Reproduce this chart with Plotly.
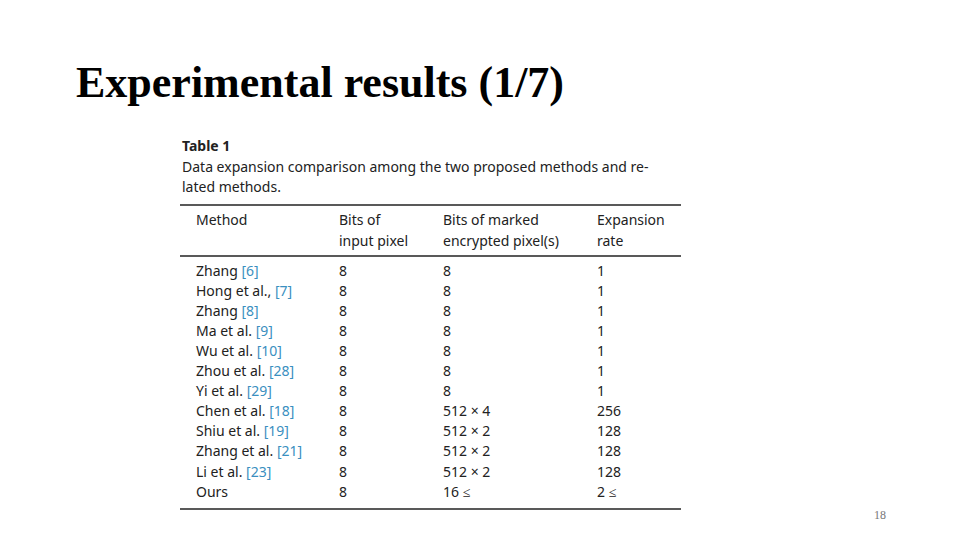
import plotly.graph_objects as go

title = "Experimental results (1/7)"
table_label = "Table 1"
caption = ["Data expansion comparison among the two proposed methods and re-",
           "lated methods."]
headers = [["Method", ""], ["Bits of", "input pixel"],
           ["Bits of marked", "encrypted pixel(s)"], ["Expansion", "rate"]]

methods = ["Zhang", "Hong et al.,", "Zhang", "Ma et al.", "Wu et al.", "Zhou et al.",
           "Yi et al.", "Chen et al.", "Shiu et al.", "Zhang et al.", "Li et al.", "Ours"]
refs = ["[6]", "[7]", "[8]", "[9]", "[10]", "[28]", "[29]", "[18]", "[19]", "[21]", "[23]", ""]
input_bits = ["8"] * 12
marked_bits = ["8", "8", "8", "8", "8", "8", "8", "512 × 4", "512 × 2", "512 × 2", "512 × 2", "16 ≤"]
expansion = ["1", "1", "1", "1", "1", "1", "1", "256", "128", "128", "128", "2 ≤"]
page_no = "18"

col_x = [194, 337, 441, 595]
cite = "#3a8fc0"
tfont = dict(family="Noto Sans", size=14, color="#222")

fig = go.Figure()
ann = []
ann.append(dict(x=74, y=82, text="<b>" + title + "</b>", xanchor="left", yanchor="middle",
                font=dict(family="Liberation Serif", size=44, color="black")))
ann.append(dict(x=180, y=145, text="<b>" + table_label + "</b>", xanchor="left", yanchor="middle", font=tfont))
for i, line in enumerate(caption):
    ann.append(dict(x=180, y=166 + 20 * i, text=line, xanchor="left", yanchor="middle", font=tfont))
for c, h in enumerate(headers):
    for j, t in enumerate(h):
        if t:
            ann.append(dict(x=col_x[c], y=219 + 21 * j, text=t, xanchor="left", yanchor="middle", font=tfont))
for i in range(len(methods)):
    y = 270 + 20.1 * i
    name = methods[i] + (" <span style='color:%s'>%s</span>" % (cite, refs[i]) if refs[i] else "")
    for c, t in enumerate([name, input_bits[i], marked_bits[i], expansion[i]]):
        ann.append(dict(x=col_x[c], y=y, text=t, xanchor="left", yanchor="middle", font=tfont))
ann.append(dict(x=880, y=515, text=page_no, xanchor="center", yanchor="middle",
                font=dict(family="Liberation Serif", size=12, color="#777")))
for a in ann:
    a.update(xref="x", yref="y", showarrow=False)

shapes = [dict(type="line", xref="x", yref="y", x0=180, x1=681, y0=yy, y1=yy,
               line=dict(color="#222", width=1.3)) for yy in (205, 256, 509)]

# the page body adds an 8px offset, so shift the coordinate window to compensate
fig.update_layout(width=960, height=540, margin=dict(l=0, r=0, t=0, b=0),
                  paper_bgcolor="white", plot_bgcolor="white",
                  xaxis=dict(range=[8, 968], visible=False, fixedrange=True),
                  yaxis=dict(range=[548, 8], visible=False, fixedrange=True),
                  annotations=ann, shapes=shapes, showlegend=False)
fig.write_html("out.html")
